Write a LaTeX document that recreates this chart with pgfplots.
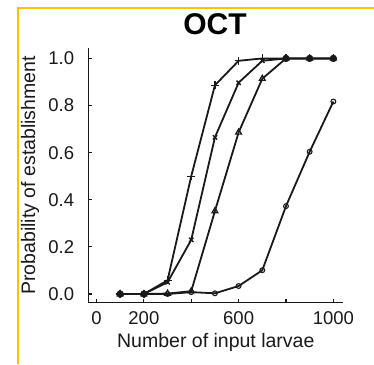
\documentclass[border=0pt]{standalone}
\usepackage{fontspec}
\setmainfont{Liberation Sans}
\usepackage{pgfplots}
\usepackage{pgfplotstable}
\pgfplotsset{compat=1.18}
\definecolor{frameorange}{RGB}{255,192,0}
\definecolor{ink}{RGB}{25,25,25}
\pgfplotstableread{
x    plus   cross  tri    circ
100  0      0      0      0
200  0      0      0      0
300  0.058  0.05   0.002  0
400  0.5    0.23   0.012  0.008
500  0.886  0.665  0.352  0.003
600  0.99   0.897  0.686  0.034
700  1      0.99   0.914  0.101
800  1      1      1      0.373
900  1      1      1      0.604
1000 1      1      1      0.817
}\octdata
\pgfplotstableread{
x    y
100  0
200  0
800  1
900  1
1000 1
}\filled
\begin{document}
\begin{tikzpicture}
\begin{axis}[
  at={(88.3pt,61.5pt)}, anchor=south west,
  scale only axis, width=255pt, height=254.2pt,
  xmin=-34.6, xmax=1042, ymin=-0.036, ymax=1.043,
  axis lines=left, axis line style={-, line width=1.3pt, ink},
  tick align=inside, major tick length=4pt, tick style={line width=1.1pt, ink},
  xtick={0,200,400,600,800,1000}, xticklabels={0,200,,600,,1000},
  ytick={0,0.2,0.4,0.6,0.8,1}, yticklabels={0.0,0.2,0.4,0.6,0.8,1.0},
  xticklabel style={anchor=north, inner sep=0pt, yshift=-9pt, text=ink, font=\fontsize{18.5}{20}\selectfont},
  yticklabel style={anchor=east, inner sep=0pt, xshift=-14pt, text=ink, font=\fontsize{18.5}{20}\selectfont},
  xlabel={Number of input larvae},
  xlabel style={at={(axis description cs:0.5,-0.178)}, anchor=base, inner sep=0pt, text=ink, font=\fontsize{19.5}{22}\selectfont},
  ylabel={Probability of establishment},
  ylabel style={at={(axis description cs:-0.209,0.5)}, anchor=base, inner sep=0pt, text=ink, font=\fontsize{19.5}{22}\selectfont},
  clip=false,
]
\addplot[ink, line width=1.8pt, mark=+, mark size=4pt, mark options={line width=1.4pt}] table[x=x, y=plus] {\octdata};
\addplot[ink, line width=1.8pt, mark=x, mark size=3pt, mark options={line width=1.4pt}] table[x=x, y=cross] {\octdata};
\addplot[ink, line width=1.8pt, mark=triangle, mark size=3.4pt, mark options={line width=1.2pt, fill=white}] table[x=x, y=tri] {\octdata};
\addplot[ink, line width=1.8pt, mark=o, mark size=2.4pt, mark options={line width=1.1pt, fill=white}] table[x=x, y=circ] {\octdata};
\addplot[only marks, ink, mark=*, mark size=3.4pt] table[x=x, y=y] {\filled};
\end{axis}
\node[anchor=base, inner sep=0pt, text=black, font=\bfseries\fontsize{30}{32}\selectfont] at (215pt,329.7pt) {OCT};
\draw[frameorange, line width=1.7pt] (18.3pt,0pt) -- (18.3pt,355.7pt) -- (374pt,355.7pt);
\pgfresetboundingbox
\path[use as bounding box] (0pt,0pt) rectangle (374pt,364pt);
\end{tikzpicture}
\end{document}
